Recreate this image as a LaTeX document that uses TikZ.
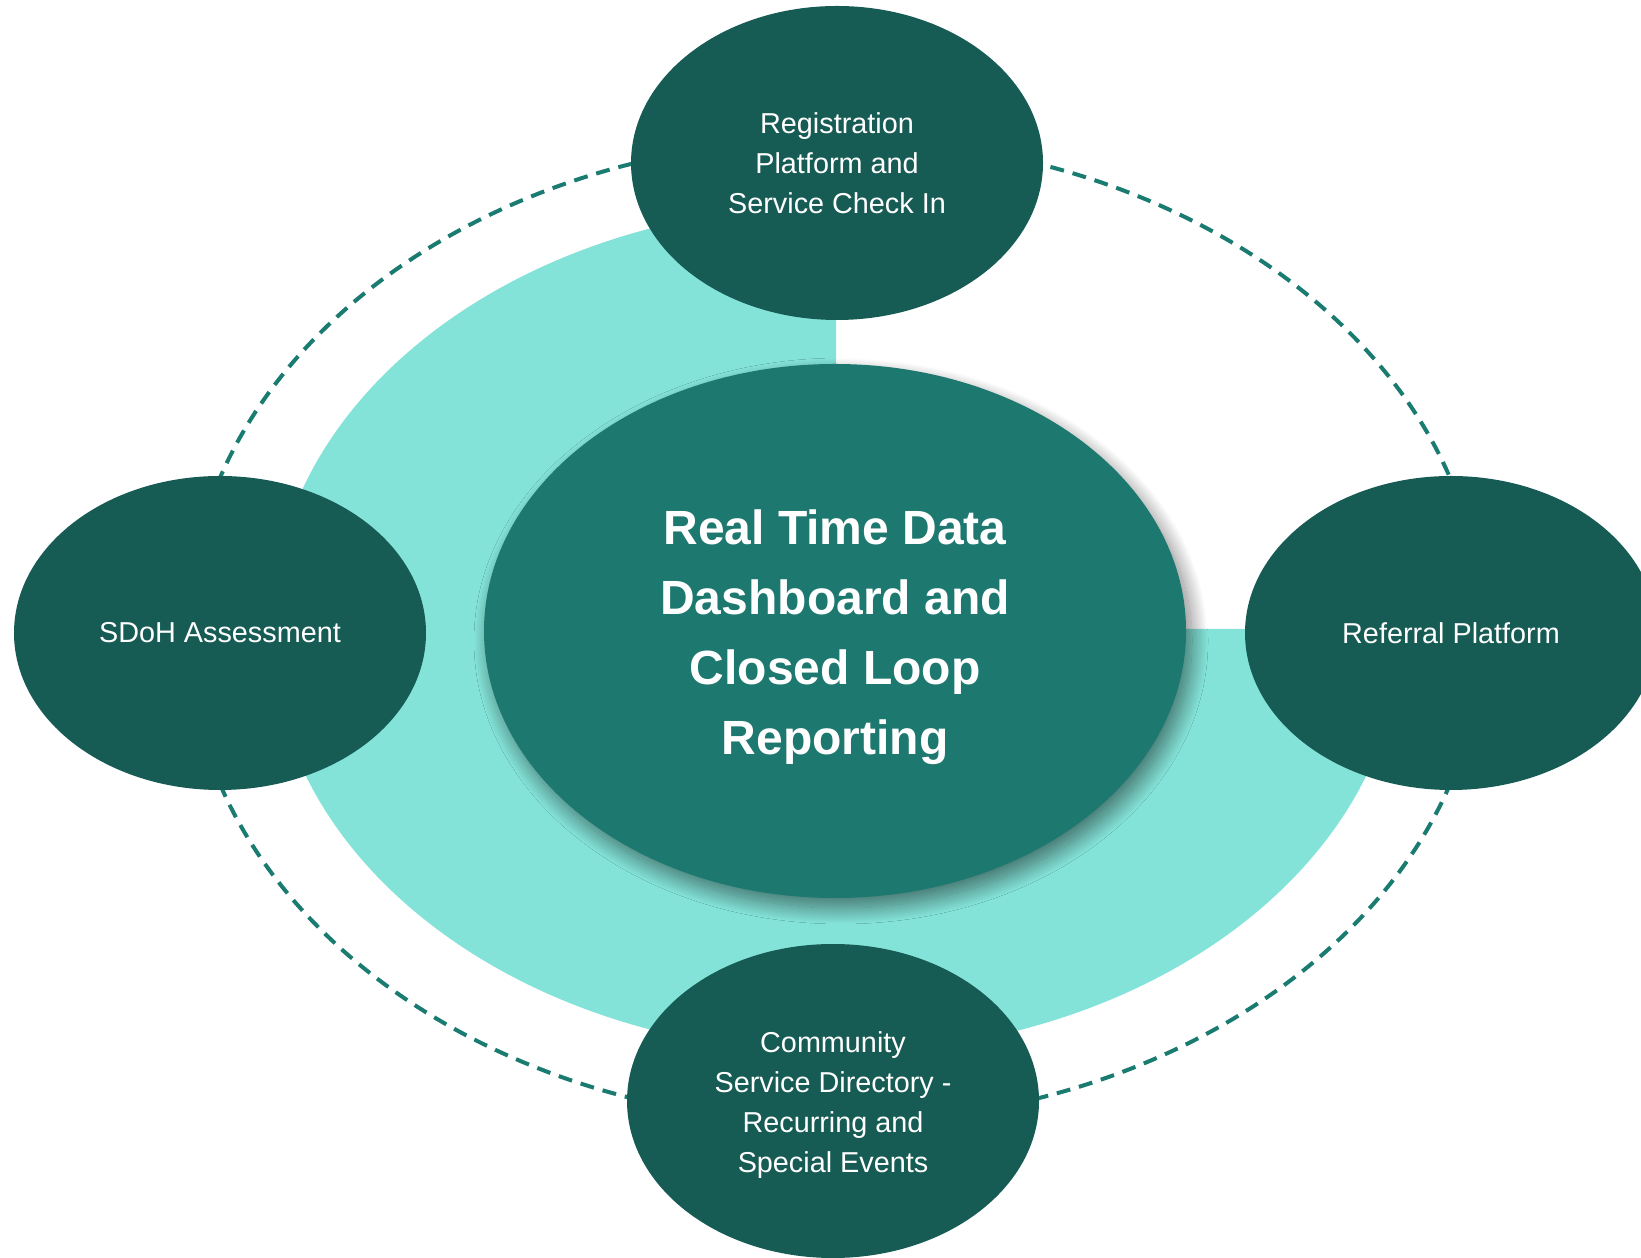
\documentclass[tikz,border=0pt]{standalone}
\usepackage{fontspec}
\setmainfont{Liberation Sans}
\usetikzlibrary{shapes.geometric,shadows.blur}
\definecolor{lightteal}{HTML}{84E3D8}
\definecolor{darkteal}{HTML}{165B54}
\definecolor{midteal}{HTML}{1D786F}
\definecolor{dashteal}{HTML}{1A7B70}

\begin{document}
\begin{tikzpicture}[x=0.5pt,y=0.5pt,
	outer/.style={ellipse,fill=darkteal,text=white,inner sep=0pt,align=center,
		minimum width=206pt,minimum height=157pt,font=\fontsize{14.4}{20}\selectfont},
	centre/.style={ellipse,fill=midteal,text=white,inner sep=0pt,align=center,
		minimum width=351pt,minimum height=267pt,font=\bfseries\fontsize{24}{35}\selectfont,
		blur shadow={shadow xshift=3pt,shadow yshift=-5pt,shadow blur radius=8pt,
			shadow blur steps=30,shadow opacity=50}},
	dashline/.style={draw=dashteal,line width=2pt,dash pattern=on 7pt off 4.5pt}]
	\useasboundingbox (0,0) rectangle (1641,1257);
	% 绘制虚线椭圆
	\draw[dashline] (835,626) ellipse [x radius=647, y radius=492];
	% 绘制浅色底（缺右上角）
	\fill[lightteal] (836,628) -- (836,1052) arc[start angle=90, end angle=360, x radius=565, y radius=424] -- cycle;
	% 中心椭圆
	\node[centre] (dash) at (835,626) {\rule{0pt}{24pt}Real Time Data\\Dashboard and\\Closed Loop\\Reporting};
	% 四个外围椭圆
	\node[outer] (reg) at (837,1094) {Registration\\Platform and\\Service Check In};
	\node[outer] (sdoh) at (220,624) {SDoH Assessment};
	\node[outer] (ref) at (1451,624) {Referral Platform};
	\node[outer] (csd) at (833,156) {\rule{0pt}{14.5pt}Community\\Service Directory -\\Recurring and\\Special Events};
\end{tikzpicture}
\end{document}
